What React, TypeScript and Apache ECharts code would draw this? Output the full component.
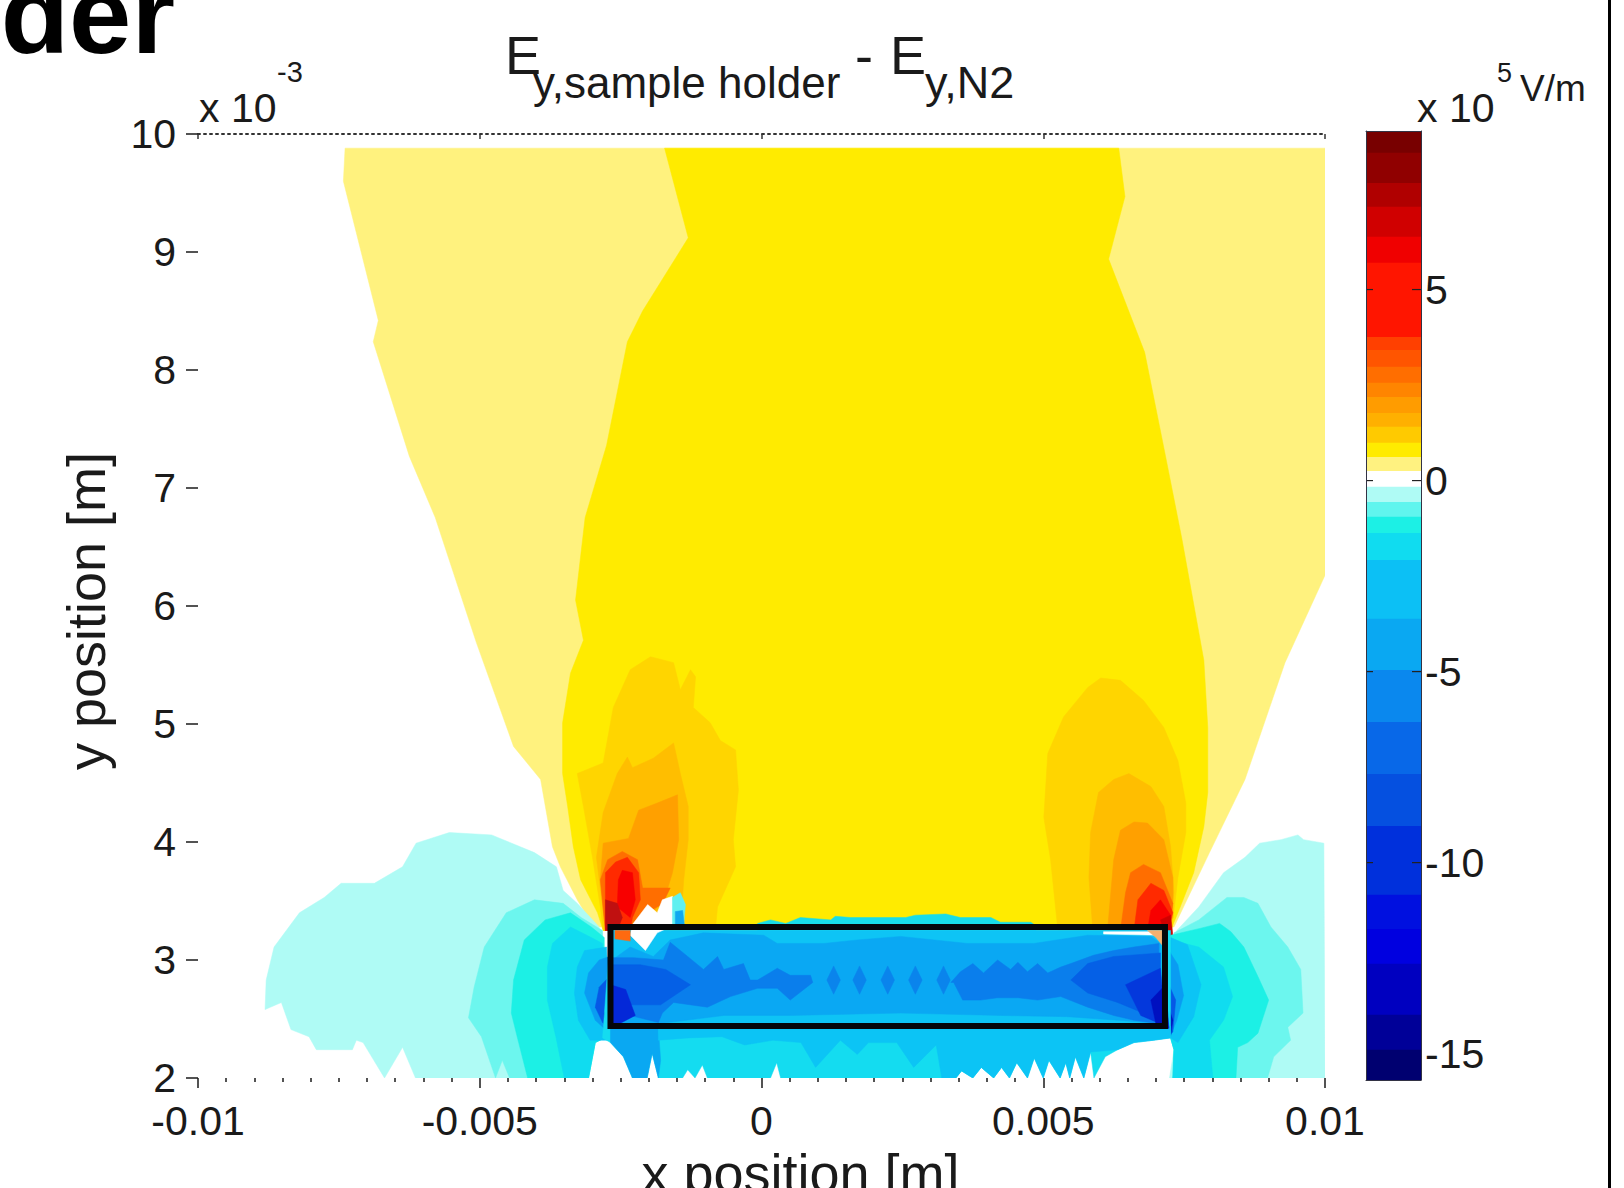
import React, { useEffect, useRef } from "react";
import * as echarts from "echarts";

// All contour outlines: [x in 10^-3 m, y in 10^-3 m]
const paleYellow = [[-7.39,9.88],[-7.42,9.6],[-6.8,8.42],[-6.89,8.24],[-6.25,7.27],[-5.79,6.75],[-5.06,5.69],[-4.4,4.81],[-3.92,4.53],[-3.71,3.96],[-3.57,3.79],[-3.27,3.51],[-2.98,3.28],[7.32,3.28],[7.95,3.91],[8.58,4.53],[9.29,5.52],[10,6.26],[10,9.88]];
const yellow = [[-1.72,9.88],[-1.3,9.12],[-2.11,8.5],[-2.38,8.24],[-2.75,7.36],[-3.13,6.75],[-3.3,6.05],[-3.16,5.71],[-3.39,5.43],[-3.53,5.01],[-3.53,4.58],[-3.44,4.3],[-3.34,3.96],[-3.21,3.68],[-2.91,3.4],[-2.81,3.25],[7.26,3.25],[7.39,3.4],[7.67,3.74],[7.85,4.13],[7.92,4.42],[7.92,4.97],[7.85,5.54],[7.46,6.57],[7.17,7.27],[6.8,8.15],[6.16,8.94],[6.45,9.47],[6.34,9.88]];
const goldLeft = [[-3.27,4.58],[-2.81,4.67],[-2.63,5.14],[-2.33,5.46],[-1.97,5.57],[-1.56,5.52],[-1.44,5.29],[-1.26,5.46],[-1.17,5.4],[-1.21,5.14],[-0.91,5.01],[-0.73,4.86],[-0.46,4.78],[-0.41,4.44],[-0.5,4.02],[-0.46,3.79],[-0.78,3.45],[-0.82,3.25],[-2.81,3.25],[-2.86,3.45],[-3,3.87],[-3.16,4.3]];
const amberLeft = [[-2.81,4.25],[-2.56,4.58],[-2.38,4.72],[-2.29,4.63],[-1.92,4.71],[-1.56,4.84],[-1.44,4.58],[-1.3,4.3],[-1.3,4.02],[-1.38,3.68],[-1.44,3.25],[-2.77,3.25],[-2.82,3.45],[-2.93,3.87]];
const orangeLeft = [[-2.81,3.99],[-2.36,4.03],[-2.18,4.27],[-1.85,4.33],[-1.49,4.4],[-1.47,4.02],[-1.58,3.74],[-1.7,3.55],[-2.15,3.25],[-2.77,3.25],[-2.86,3.68]];
const darkOrangeLeft = [[-2.86,3.68],[-2.73,3.85],[-2.47,3.92],[-2.2,3.85],[-2.11,3.61],[-1.62,3.61],[-1.76,3.47],[-2.15,3.38],[-2.41,3.25],[-2.77,3.25]];
const redOrangeLeft = [[-2.77,3.74],[-2.59,3.83],[-2.38,3.87],[-2.18,3.74],[-2.15,3.51],[-2.29,3.36],[-2.33,3.25],[-2.77,3.25]];
const redLeft = [[-2.47,3.76],[-2.29,3.74],[-2.24,3.51],[-2.33,3.36],[-2.56,3.45],[-2.54,3.68]];
const darkRedLeft = [[-2.77,3.51],[-2.56,3.48],[-2.47,3.36],[-2.56,3.25],[-2.77,3.25]];

const goldRight = [[5.01,4.21],[5.08,4.75],[5.36,5.06],[5.79,5.31],[6.02,5.39],[6.37,5.37],[6.78,5.2],[7.14,4.97],[7.39,4.69],[7.53,4.33],[7.53,4.08],[7.39,3.7],[7.28,3.25],[5.26,3.25],[5.13,3.85]];
const amberRight = [[5.84,4.08],[5.98,4.42],[6.25,4.53],[6.52,4.58],[6.91,4.47],[7.14,4.3],[7.26,3.96],[7.32,3.57],[7.23,3.25],[5.88,3.25],[5.81,3.7]];
const orangeRight = [[6.14,3.25],[6.25,3.85],[6.37,4.1],[6.61,4.17],[6.85,4.16],[7.14,4.02],[7.3,3.7],[7.3,3.36],[7.17,3.25]];
const darkOrangeRight = [[6.37,3.25],[6.46,3.57],[6.55,3.74],[6.78,3.81],[7.08,3.74],[7.3,3.48],[7.23,3.25]];
const redOrangeRight = [[6.61,3.25],[6.68,3.51],[6.91,3.65],[7.14,3.59],[7.3,3.4],[7.21,3.25]];
const redRight = [[6.85,3.25],[6.91,3.42],[7.08,3.51],[7.26,3.38],[7.21,3.25]];
const darkRedRight = [[7.08,3.34],[7.26,3.38],[7.3,3.21],[7.17,3.21]];

const paleCyanLeft = [[-8.81,2.58],[-8.79,2.83],[-8.65,3.11],[-8.2,3.4],[-7.76,3.53],[-7.46,3.65],[-6.87,3.65],[-6.37,3.79],[-6.13,3.99],[-5.54,4.08],[-4.79,4.06],[-4.03,3.91],[-3.64,3.79],[-3.52,3.59],[-3.27,3.48],[-2.88,3.28],[-2.79,2.66],[-2.79,2.34],[-2.95,2.3],[-3.07,2],[-6.14,2],[-6.37,2.26],[-6.69,2],[-7.07,2.3],[-7.19,2.32],[-7.26,2.24],[-7.9,2.24],[-8.03,2.35],[-8.35,2.41],[-8.52,2.64]];
const aquaLeft = [[-5.2,2.51],[-5.1,2.77],[-4.92,3.11],[-4.53,3.4],[-4.03,3.51],[-3.52,3.48],[-3.2,3.36],[-2.82,3.25],[-2.79,2.66],[-2.79,2.34],[-2.95,2.3],[-3.07,2],[-4.47,2],[-4.6,2.15],[-4.72,2],[-4.97,2.35]];
const turquoiseLeft = [[-4.44,2.55],[-4.4,2.83],[-4.21,3.17],[-3.84,3.34],[-3.39,3.4],[-3.02,3.28],[-2.79,3.19],[-2.79,2.66],[-2.79,2.34],[-2.95,2.3],[-3.07,2],[-4.15,2],[-4.31,2.3]];
const cyanLeft = [[-3.8,2.66],[-3.8,2.94],[-3.71,3.14],[-3.39,3.28],[-3.02,3.19],[-2.82,3.14],[-2.79,2.66],[-2.79,2.34],[-2.95,2.3],[-3.07,2],[-3.5,2],[-3.65,2.35]];
const skyLeft = [[-3.32,2.72],[-3.27,2.94],[-3.14,3.08],[-2.75,3.11],[-2.68,2.32],[-3.04,2.32],[-3.25,2.49]];
const azureLeft = [[-3.14,2.72],[-3.07,2.89],[-2.88,3],[-2.7,3.03],[-2.7,2.38],[-2.95,2.49]];
const royalLeft = [[-2.95,2.6],[-2.88,2.77],[-2.7,2.86],[-2.7,2.42],[-2.82,2.47]];
const navyLeft = [[-2.79,2.55],[-2.66,2.66],[-2.66,2.41],[-2.79,2.42]];

const paleCyanRight = [[7.37,3.25],[7.76,3.45],[8.2,3.74],[8.58,3.87],[8.84,3.99],[9.22,4.02],[9.52,4.06],[9.62,4.02],[9.98,3.99],[10,2],[7.24,2],[7.32,2.24],[7.26,2.34]];
const aquaRight = [[7.32,3.23],[7.76,3.34],[8.26,3.53],[8.56,3.53],[8.81,3.48],[9.04,3.28],[9.34,3.11],[9.57,2.92],[9.61,2.55],[9.34,2.43],[9.39,2.32],[9.09,2.18],[8.98,2],[7.3,2],[7.32,2.24],[7.26,2.34]];
const turquoiseRight = [[7.26,3.21],[7.8,3.27],[8.13,3.31],[8.33,3.24],[8.56,3.11],[8.81,2.86],[9,2.66],[8.81,2.38],[8.63,2.3],[8.45,2.26],[8.42,2],[7.3,2],[7.32,2.24],[7.26,2.34]];
const cyanRight = [[7.26,3.17],[7.76,3.11],[8.2,2.94],[8.36,2.69],[8.2,2.49],[7.95,2.32],[8.01,2],[7.3,2],[7.32,2.24],[7.26,2.34]];
const skyRight = [[7.26,3.19],[7.56,3.13],[7.8,2.79],[7.67,2.52],[7.39,2.3],[7.26,2.34]];
const azureRight = [[7.23,3.08],[7.39,2.96],[7.49,2.7],[7.37,2.49],[7.26,2.36]];
const royalRight = [[7.23,2.79],[7.35,2.66],[7.3,2.39],[7.19,2.34]];
const navyRight = [[7.21,2.62],[7.3,2.49],[7.26,2.36],[7.14,2.34]];

const barLower = [[-2.68,3.25],[7.26,3.25],[7.26,2.34],[6.96,2.32],[6.61,2.3],[6.32,2.24],[6.1,2.18],[5.9,2],[5.84,2.22],[5.72,2],[5.57,2.18],[5.47,2],[5.4,2.13],[5.3,2],[5.1,2.15],[5,2],[4.84,2.17],[4.72,2],[4.53,2.13],[4.4,2],[4.26,2.09],[4.12,2],[3.9,2.09],[3.75,2],[3.55,2.06],[3.45,2],[0.34,2],[0.27,2.13],[0.16,2],[-0.96,2],[-1.05,2.11],[-1.18,2],[-1.31,2.07],[-1.4,2],[-1.83,2],[-1.94,2.21],[-2.03,2],[-2.29,2],[-2.45,2.18],[-2.68,2.3],[-2.82,2.34]];
const lowerColumn = [[-2.68,2.42],[-1.83,2.42],[-1.79,2.15],[-1.83,2],[-1.94,2.21],[-2.03,2],[-2.29,2],[-2.45,2.18],[-2.68,2.3]];
const lowerBand = [[-1.83,2.44],[7.26,2.44],[7.26,2.34],[6.96,2.32],[6.61,2.3],[6.32,2.24],[5.84,2.22],[5.72,2],[5.57,2.18],[5.47,2],[5.4,2.13],[5.3,2],[5.1,2.15],[5,2],[4.84,2.17],[4.72,2],[4.53,2.13],[4.4,2],[4.26,2.09],[4.12,2],[3.9,2.09],[3.75,2],[3.55,2.06],[3.45,2],[3.2,2],[3.1,2.28],[2.7,2.09],[2.4,2.3],[1.9,2.3],[1.7,2.2],[1.4,2.32],[0.96,2.09],[0.7,2.3],[0.2,2.32],[-0.3,2.28],[-0.7,2.35],[-1.3,2.34],[-1.83,2.32]];
const barFringe = [[-0.07,3.31],[0.16,3.34],[0.43,3.31],[0.69,3.36],[1.23,3.34],[1.31,3.37],[1.58,3.36],[2.11,3.36],[2.56,3.36],[2.73,3.38],[3.27,3.39],[3.53,3.36],[4.07,3.36],[4.24,3.32],[4.78,3.32],[4.87,3.29],[4.87,3.25],[-0.07,3.25]];
const barInterior = [[-2.68,3.25],[7.16,3.25],[7.16,2.44],[-2.68,2.44]];
const barMiddle = [[-2.33,3.11],[-1.92,3.03],[-1.62,3.17],[-1.03,3.23],[0.04,3.21],[0.28,3.14],[1.1,3.14],[1.7,3.17],[2.47,3.2],[3.66,3.14],[4.83,3.14],[5.79,3.21],[6.91,3.2],[7.08,3.14],[7.08,2.46],[6.32,2.49],[5.43,2.52],[4.24,2.53],[2.47,2.55],[0.51,2.53],[-0.67,2.53],[-1.83,2.46],[-2.65,2.42],[-2.65,3]];
const spineLeft = [[-2.63,3.02],[-2.27,3.02],[-1.74,3],[-1.62,3.15],[-1.31,3.03],[-1.03,2.92],[-0.78,3.03],[-0.67,2.92],[-0.32,2.97],[-0.2,2.83],[-0.07,2.83],[0.28,2.93],[0.51,2.87],[0.87,2.87],[0.91,2.81],[0.51,2.66],[0.28,2.76],[-0.07,2.76],[-0.55,2.69],[-0.96,2.6],[-1.56,2.64],[-1.76,2.55],[-1.83,2.47],[-2.33,2.53],[-2.65,2.45]];
const spineRight = [[3.36,2.81],[3.53,2.9],[3.75,2.97],[3.94,2.89],[4.19,3],[4.42,2.92],[4.55,2.98],[4.72,2.9],[4.9,2.97],[5.08,2.89],[5.31,2.94],[5.49,2.97],[5.89,3.04],[6.25,3.08],[6.61,3.11],[7.05,3.14],[7.05,2.46],[6.61,2.49],[6.25,2.53],[5.79,2.6],[5.31,2.69],[4.9,2.66],[4.55,2.68],[4.19,2.68],[3.89,2.66],[3.57,2.66],[3.41,2.81]];
const diamond1 = [[1.16,2.83],[1.28,2.95],[1.4,2.83],[1.28,2.71]];
const diamond2 = [[1.62,2.83],[1.74,2.95],[1.86,2.83],[1.74,2.71]];
const diamond3 = [[2.12,2.83],[2.24,2.95],[2.36,2.83],[2.24,2.71]];
const diamond4 = [[2.61,2.83],[2.73,2.95],[2.85,2.83],[2.73,2.71]];
const diamond5 = [[3.11,2.83],[3.23,2.95],[3.35,2.83],[3.23,2.71]];
const deepLeft = [[-2.63,2.96],[-2.15,2.96],[-1.7,2.92],[-1.26,2.79],[-1.79,2.62],[-2.33,2.62],[-2.63,2.53]];
const deeperLeft = [[-2.68,2.79],[-2.41,2.75],[-2.24,2.53],[-2.68,2.42]];
const deepRight = [[5.49,2.83],[5.79,2.97],[6.25,3.03],[7.08,3.06],[7.08,2.49],[6.32,2.64],[5.79,2.72]];
const deeperRight = [[6.46,2.79],[7.08,2.93],[7.17,2.44],[6.73,2.53]];
const deepestRight = [[6.91,2.66],[7.17,2.79],[7.23,2.42],[7,2.46]];

const patchOrange = [[-2.6,3.25],[-2.33,3.25],[-2.33,3.16],[-2.6,3.18]];
const patchWhite = [[-2.29,3.3],[-2.02,3.47],[-1.85,3.4],[-1.76,3.51],[-1.58,3.54],[-1.53,3.3],[-1.85,3.23],[-2.06,3.08],[-2.33,3.21]];
const patchAqua = [[-1.58,3.53],[-1.44,3.57],[-1.35,3.47],[-1.38,3.3],[-1.58,3.3]];
const patchBlue = [[-1.53,3.41],[-1.4,3.42],[-1.37,3.3],[-1.53,3.3]];
const stripWhite = [[6.07,3.24],[7.08,3.24],[7.08,3.21],[6.07,3.22]];
const stripOrange = [[6.85,3.25],[7.12,3.25],[7.12,3.12],[7,3.19]];
const holderOutline = [[-2.68,3.28],[7.16,3.28],[7.16,2.44],[-2.68,2.44]];

const C = {
  pale: "#FFF27E", yellow: "#FFEB00", gold: "#FFD500", amber: "#FFBE00", orange: "#FFA000", dorange: "#FF6E00", redor: "#FF2A00", red: "#F80000", dred: "#C01010",
  pcyan: "#AFFBF5", aqua: "#6CF6EE", turq: "#1CF0E5", cyan: "#10DCF0", sky: "#0CC4F5", azure: "#0A9CF2", royal: "#0658E6", navy: "#0010C0",
};
const layers: [number[][], string | null][] = [
  [paleYellow, C.pale], [yellow, C.yellow], [goldLeft, C.gold], [amberLeft, C.amber], [orangeLeft, C.orange], [darkOrangeLeft, C.dorange], [redOrangeLeft, C.redor], [redLeft, C.red], [darkRedLeft, C.dred],
  [goldRight, C.gold], [amberRight, C.amber], [orangeRight, C.orange], [darkOrangeRight, C.dorange], [redOrangeRight, C.redor], [redRight, C.red], [darkRedRight, "#D00000"],
  [paleCyanLeft, C.pcyan], [aquaLeft, C.aqua], [turquoiseLeft, C.turq], [cyanLeft, C.cyan], [skyLeft, C.sky], [azureLeft, C.azure], [royalLeft, C.royal], [navyLeft, C.navy],
  [paleCyanRight, C.pcyan], [aquaRight, C.aqua], [turquoiseRight, C.turq], [cyanRight, C.cyan], [skyRight, C.sky], [azureRight, C.azure], [royalRight, C.royal], [navyRight, C.navy],
  [barFringe, "#18DCE8"], [barLower, "#14DCF0"], [lowerColumn, "#0AA8F2"], [lowerBand, "#0CC4F5"], [barInterior, "#0EC4F5"], [barMiddle, "#0AA8F3"],
  [spineLeft, "#0A7EEC"], [spineRight, "#0A7EEC"], [diamond1, "#0A84EC"], [diamond2, "#0A84EC"], [diamond3, "#0A84EC"], [diamond4, "#0A84EC"], [diamond5, "#0A84EC"],
  [deepLeft, "#0560E6"], [deeperLeft, "#0428D8"], [deepRight, "#0560E6"], [deeperRight, "#0438DC"], [deepestRight, "#0010C0"],
  [patchWhite, "#FFFFFF"], [patchAqua, "#60F0F0"], [patchBlue, "#10A8F0"], [patchOrange, "#FF6A10"], [stripWhite, "#FFFFFF"], [stripOrange, "#F2B070"],
  [holderOutline, null],
];

const colorLimits = [9.15,8.58,7.79,7.17,6.38,5.7,3.76,3.42,2.98,2.56,2.19,1.77,1.41,0.99,0.62,0.25,-0.16,-0.56,-0.95,-1.37,-2.08,-3.62,-4.96,-6.32,-7.68,-9.04,-10.84,-11.74,-12.65,-13.98,-14.9,-15.69];
const colorBands = ["#780000","#900000","#B00000","#D00000","#F00000","#FF1500","#FF4000","#FF5500","#FF6E00","#FF8500","#FF9C00","#FFB000","#FFCA00","#FFEB00","#FFF280","#FFFFFF","#AFFBF5","#60F5EE","#1CF0E5","#10DCF0","#0CC0F5","#0AA8F2","#0A88EE","#0868E8","#0550E0","#0030DC","#0010E0","#0000E0","#0000C0","#000098","#000070"];
const colorTicks = [-15, -10, -5, 0, 5];
const markedTicks = [-10, -5, 0, 5];
const FONT = "Liberation Sans";
const INK = "#1a1a1a";

export default function App() {
  const ref = useRef<HTMLDivElement>(null);
  useEffect(() => {
    const chart = echarts.init(ref.current!, undefined, { renderer: "svg" });
    const text = (x: number, y: number, t: string, size: number, extra: any = {}) => ({
      type: "text", x, y: y - size * 0.87, silent: true,
      style: { text: t, fontFamily: FONT, fontSize: size, fill: INK, ...extra },
    });
    const barAxisLine = { show: true, onZero: false, lineStyle: { color: "#334" } };
    chart.setOption({
      animation: false,
      backgroundColor: "#fff",
      textStyle: { fontFamily: FONT },
      grid: [
        { left: 198, right: 299, top: 134, bottom: 110, outerBoundsMode: "none" },
        { left: 1366, right: 203, top: 131, bottom: 108, outerBoundsMode: "none" },
      ],
      xAxis: [
        {
          gridIndex: 0, type: "value", position: "bottom", min: -0.01, max: 0.01, interval: 0.005,
          name: "x position [m]", nameLocation: "middle", nameGap: 67,
          nameTextStyle: { fontFamily: FONT, fontSize: 54, color: INK, padding: [0, 0, 0, 78] },
          axisLine: { show: false, onZero: false }, splitLine: { show: false },
          axisTick: { show: true, length: 10, lineStyle: { color: INK, width: 1.5 } },
          minorTick: { show: true, splitNumber: 10, length: 4, lineStyle: { color: INK, width: 1.5 } },
          axisLabel: { fontFamily: FONT, fontSize: 41, color: INK, margin: 22, showMinLabel: true, showMaxLabel: true, hideOverlap: false, formatter: (v: number) => String(+v.toFixed(3)) },
        },
        {
          gridIndex: 0, type: "value", position: "top", min: -0.01, max: 0.01, interval: 0.005,
          axisLine: { show: true, onZero: false, lineStyle: { color: "#333", width: 2, type: [2, 4] as any } },
          axisTick: { show: true, inside: true, length: 5, lineStyle: { color: "#333", width: 1.5 } },
          axisLabel: { show: false }, splitLine: { show: false },
        },
        { gridIndex: 1, type: "value", position: "bottom", min: 0, max: 1, z: 6, axisLine: barAxisLine, axisTick: { show: false }, axisLabel: { show: false }, splitLine: { show: false } },
        { gridIndex: 1, type: "value", position: "top", min: 0, max: 1, z: 6, axisLine: barAxisLine, axisTick: { show: false }, axisLabel: { show: false }, splitLine: { show: false } },
      ],
      yAxis: [
        {
          gridIndex: 0, type: "value", position: "left", min: 2, max: 10, interval: 1,
          name: "y position [m]", nameLocation: "middle", nameGap: 85, nameRotate: 90,
          nameTextStyle: { fontFamily: FONT, fontSize: 54, color: INK, padding: [0, 10, 0, 0] },
          axisLine: { show: false, onZero: false }, splitLine: { show: false },
          axisTick: { show: true, length: 12, lineStyle: { color: INK, width: 1.5 } },
          axisLabel: { fontFamily: FONT, fontSize: 41, color: INK, margin: 22, showMinLabel: true, showMaxLabel: true },
        },
        {
          gridIndex: 1, type: "value", position: "right", min: -15.69, max: 9.15, z: 6,
          axisLine: { ...barAxisLine, lineStyle: { color: "#334", width: 1 } }, splitLine: { show: false },
          axisTick: { show: false },
          axisLabel: { fontFamily: FONT, fontSize: 41, color: INK, margin: 4, customValues: colorTicks, formatter: (v: number) => String(v) },
        },
        {
          gridIndex: 1, type: "value", position: "left", min: -15.69, max: 9.15, z: 6,
          axisLine: { ...barAxisLine, lineStyle: { color: "#334", width: 1 } }, splitLine: { show: false },
          axisTick: { show: false },
          axisLabel: { show: false },
        },
      ],
      series: [
        {
          type: "custom", xAxisIndex: 0, yAxisIndex: 0, coordinateSystem: "cartesian2d", clip: true, silent: true,
          data: layers.map((l, i) => [l[0][0][0] * 1e-3, l[0][0][1], i]),
          renderItem: (params: any, api: any) => {
            const [pts, fill] = layers[params.dataIndex];
            const points = pts.map((p) => api.coord([p[0] * 1e-3, p[1]]));
            return fill
              ? { type: "polygon", shape: { points }, style: { fill, stroke: fill, lineWidth: 0.5 } }
              : { type: "polygon", shape: { points }, style: { fill: "none", stroke: "#05060a", lineWidth: 6 } };
          },
        },
        {
          type: "custom", xAxisIndex: 2, yAxisIndex: 1, coordinateSystem: "cartesian2d", silent: true,
          data: colorBands.map((_, i) => [0.5, colorLimits[i], i]),
          renderItem: (params: any, api: any) => {
            const i = params.dataIndex;
            const a = api.coord([0, colorLimits[i]]);
            const b = api.coord([1, colorLimits[i + 1]]);
            return { type: "rect", shape: { x: a[0], y: a[1], width: b[0] - a[0], height: b[1] - a[1] + 0.5 }, style: { fill: colorBands[i] } };
          },
        },
        {
          type: "custom", xAxisIndex: 2, yAxisIndex: 1, coordinateSystem: "cartesian2d", silent: true, z: 5,
          data: markedTicks.map((v) => [0.5, v]),
          renderItem: (params: any, api: any) => {
            const v = api.value(1);
            const a = api.coord([0, v]);
            const b = api.coord([1, v]);
            const style = { stroke: "#222", lineWidth: 1.2 };
            return {
              type: "group",
              children: [
                { type: "line", shape: { x1: a[0], y1: a[1], x2: a[0] + 7, y2: a[1] }, style },
                { type: "line", shape: { x1: b[0] - 9, y1: b[1], x2: b[0], y2: b[1] }, style },
              ],
            };
          },
        },
      ],
      graphic: [
        { type: "rect", x: 1608, y: 0, shape: { width: 3, height: 1188 }, style: { fill: "#000" }, silent: true },
        text(175, 56, "der", 112, { fontWeight: "bold", fill: "#000", textAlign: "right" }),
        text(505, 75, "E", 54),
        text(533, 99, "y,sample holder", 44),
        text(855, 75, "-", 54),
        text(890, 75, "E", 54),
        text(925, 99, "y,N2", 45),
        text(199, 123, "x 10", 41),
        text(277, 83, "-3", 29),
        text(1417, 123, "x 10", 41),
        text(1497, 83, "5", 27),
        text(1520, 102, "V/m", 37),
      ],
    });
    return () => chart.dispose();
  }, []);
  return <div ref={ref} style={{ position: "absolute", left: 0, top: 0, width: 1624, height: 1188 }} />;
}
